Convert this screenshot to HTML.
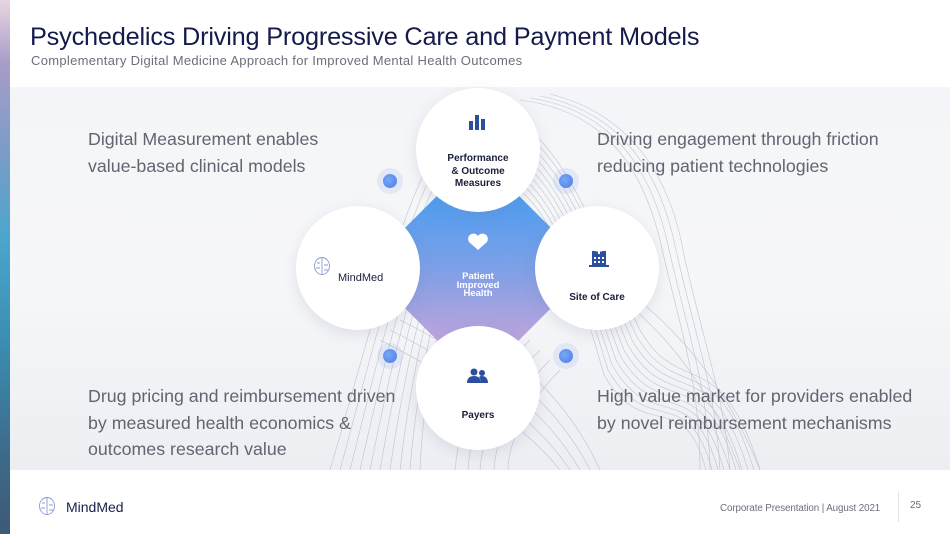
<!DOCTYPE html>
<html><head><meta charset="utf-8"><style>
*{margin:0;padding:0;box-sizing:border-box}
body{width:950px;height:534px;position:relative;overflow:hidden;background:#fff;font-family:"Liberation Sans",sans-serif}
.strip{position:absolute;left:0;top:0;width:10px;height:534px;background:linear-gradient(#e6d6e2 0%,#a89cc8 12%,#7d9cc8 28%,#4aa6cc 45%,#3a8cb0 65%,#3e6a8a 85%,#3d5a76 100%)}
.band{position:absolute;left:10px;top:87px;width:940px;height:383px;background:linear-gradient(#f4f5f8,#f6f7f9 50%,#eceef2 100%)}
.t{position:absolute;white-space:nowrap}
h1{position:absolute;left:30px;top:23px;font-size:25.3px;font-weight:normal;color:#141a4a;letter-spacing:-0.2px}
.sub{left:31px;top:53px;font-size:13px;color:#6a6f7a;letter-spacing:0.3px}
.txt{font-size:17.8px;color:#606570;line-height:26.5px}
.c{position:absolute;width:124px;height:124px;border-radius:50%;background:#fff;box-shadow:0 4px 14px rgba(120,120,160,.18);text-align:center;font-size:10px;font-weight:bold;color:#1a1f3a}
.dot{position:absolute;width:14px;height:14px;border-radius:50%;background:radial-gradient(circle at 40% 40%,#7aa6f4,#4a7de8);box-shadow:0 0 0 6px rgba(150,170,240,.18)}
</style></head><body>
<div class="strip"></div>
<div class="band"></div>
<h1>Psychedelics Driving Progressive Care and Payment Models</h1>
<div class="t sub">Complementary Digital Medicine Approach for Improved Mental Health Outcomes</div>

<svg style="position:absolute;left:0;top:0" width="950" height="534">
<g fill="none" stroke="#9a9db0" stroke-width="0.6" opacity="0.55">
<path d="M330 470 C380 300 420 120 480 110 C560 110 600 250 640 330 C680 400 720 340 760 470"/>
<path d="M340 470 C385 305 425 130 482 118 C560 118 598 255 636 335 C676 405 716 345 754 470"/>
<path d="M350 470 C390 310 430 140 484 126 C558 126 596 260 632 340 C672 410 712 350 748 470"/>
<path d="M360 470 C395 315 435 150 486 134 C556 134 594 265 628 345 C668 415 708 355 742 470"/>
<path d="M370 470 C400 320 440 160 488 142 C554 142 592 270 624 350 C664 420 704 360 736 470"/>
<path d="M380 470 C405 325 445 170 490 150 C552 150 590 275 620 355 C660 425 700 365 730 470"/>
<path d="M390 470 C410 330 450 180 492 158 C550 158 588 280 616 360 C656 430 696 370 724 470"/>
<path d="M400 470 C415 335 455 190 494 166 C548 166 586 285 612 365 C652 435 692 375 718 470"/>
<path d="M410 470 C420 340 460 200 496 174 C546 174 584 290 608 370 C648 440 688 380 712 470"/>
<path d="M420 470 C425 345 465 210 498 182 C544 182 582 295 604 375 C644 445 684 385 706 470"/>
<path d="M520 100 C600 110 640 160 660 240 C680 330 700 380 700 470"/>
<path d="M530 98 C610 110 650 165 668 245 C688 335 708 385 710 470"/>
<path d="M540 96 C620 112 660 170 676 250 C696 340 716 390 720 470"/>
<path d="M550 94 C630 114 670 175 684 255 C704 345 724 395 730 470"/>
<path d="M460 200 C600 260 700 320 760 470"/>
<path d="M470 210 C600 270 690 330 740 470"/>
<path d="M420 300 C480 330 560 380 600 470"/>
<path d="M410 310 C470 340 550 390 590 470"/>
<path d="M400 320 C460 350 540 400 580 470"/>
<path d="M390 330 C450 360 530 410 570 470"/>
<path d="M380 340 C440 370 520 420 560 470"/>
<path d="M520 330 C480 370 460 420 455 470"/>
<path d="M530 340 C490 380 470 430 468 470"/>
<path d="M540 350 C500 390 482 440 480 470"/>
<path d="M550 360 C510 400 495 445 494 470"/>
<path d="M560 370 C520 410 508 450 508 470"/>
</g>
<defs><linearGradient id="g" gradientUnits="userSpaceOnUse" x1="410" y1="200" x2="550" y2="340"><stop offset="0" stop-color="#3d9cf4"/><stop offset="0.5" stop-color="#7fa0e6"/><stop offset="1" stop-color="#d8a4d8"/></linearGradient></defs>
<rect x="398" y="188" width="160" height="160" rx="50" transform="rotate(45 478 268)" fill="url(#g)"/>
<path d="M478 250 l-9 -8 a5 5 0 0 1 9 -6 a5 5 0 0 1 9 6z" fill="#fff"/>
<text x="478" y="279" fill="#fff" font-size="9.5" font-weight="bold" text-anchor="middle" font-family="Liberation Sans">Patient</text>
<text x="478" y="288" fill="#fff" font-size="9.5" font-weight="bold" text-anchor="middle" font-family="Liberation Sans">Improved</text>
<text x="478" y="296" fill="#fff" font-size="9.5" font-weight="bold" text-anchor="middle" font-family="Liberation Sans">Health</text>
</svg>

<div class="dot" style="left:383px;top:174px"></div>
<div class="dot" style="left:559px;top:174px"></div>
<div class="dot" style="left:383px;top:349px"></div>
<div class="dot" style="left:559px;top:349px"></div>

<div class="c" style="left:416px;top:88px">
<svg style="position:absolute;left:53px;top:25px" width="18" height="18"><rect x="0" y="8" width="4" height="9" fill="#2b4f9e"/><rect x="6" y="2" width="4" height="15" fill="#2b4f9e"/><rect x="12" y="6" width="4" height="11" fill="#2b4f9e"/></svg>
<div style="position:absolute;top:65px;width:124px;line-height:12.5px">Performance<br>&amp; Outcome<br>Measures</div></div>
<div class="c" style="left:296px;top:206px">
<svg style="position:absolute;left:17px;top:50px" width="18" height="20" fill="none" stroke="#8a9ad0" stroke-width="0.9"><ellipse cx="9" cy="10" rx="7.5" ry="8.5"/><path d="M9 2v16M4 7h3M11 9h4M3 12h4M11 14h4"/></svg>
<div style="position:absolute;left:42px;top:66px;font-size:11px;font-weight:normal">MindMed</div></div>
<div class="c" style="left:535px;top:206px">
<svg style="position:absolute;left:54px;top:40px" width="20" height="22"><rect x="3" y="5" width="14" height="15" fill="#2b4f9e"/><rect x="0" y="19" width="20" height="2" fill="#2b4f9e"/><path d="M10 1v7M6.5 4.5h7" stroke="#fff" stroke-width="2"/><g fill="#fff"><rect x="5" y="11" width="2" height="2"/><rect x="9" y="11" width="2" height="2"/><rect x="13" y="11" width="2" height="2"/><rect x="5" y="15" width="2" height="2"/><rect x="9" y="15" width="2" height="2"/><rect x="13" y="15" width="2" height="2"/></g></svg>
<div style="position:absolute;top:86px;width:124px">Site of Care</div></div>
<div class="c" style="left:416px;top:326px">
<svg style="position:absolute;left:51px;top:42px" width="22" height="16" fill="#2b4f9e"><circle cx="7" cy="4" r="3.5"/><circle cx="15" cy="5" r="3"/><path d="M0 15c0-5 3-7 7-7s7 2 7 7z"/><path d="M14 15c0-3-1-5-2-6 1-1 2-1 3-1 4 0 6 3 6 7z"/></svg>
<div style="position:absolute;top:84px;width:124px">Payers</div></div>

<div class="t txt" style="left:88px;top:126px">Digital Measurement enables<br>value-based clinical models</div>
<div class="t txt" style="left:597px;top:126px">Driving engagement through friction<br>reducing patient technologies</div>
<div class="t txt" style="left:88px;top:383px">Drug pricing and reimbursement driven<br>by measured health economics &amp;<br>outcomes research value</div>
<div class="t txt" style="left:597px;top:383px">High value market for providers enabled<br>by novel reimbursement mechanisms</div>

<svg style="position:absolute;left:38px;top:496px" width="18" height="20" fill="none" stroke="#8a9ad0" stroke-width="0.9"><ellipse cx="9" cy="10" rx="7.5" ry="8.5"/><path d="M9 2v16M4 7h3M11 9h4M3 12h4M11 14h4"/></svg>
<div class="t" style="left:66px;top:499px;font-size:14px;color:#1a1f4a">MindMed</div>
<div class="t" style="left:720px;top:503px;font-size:9.8px;color:#6a6f7a;letter-spacing:-0.1px">Corporate Presentation | August 2021</div>
<div style="position:absolute;left:898px;top:492px;width:1px;height:30px;background:#e2e4ea"></div>
<div class="t" style="left:910px;top:500px;font-size:10px;color:#6a6f7a">25</div>
</body></html>
